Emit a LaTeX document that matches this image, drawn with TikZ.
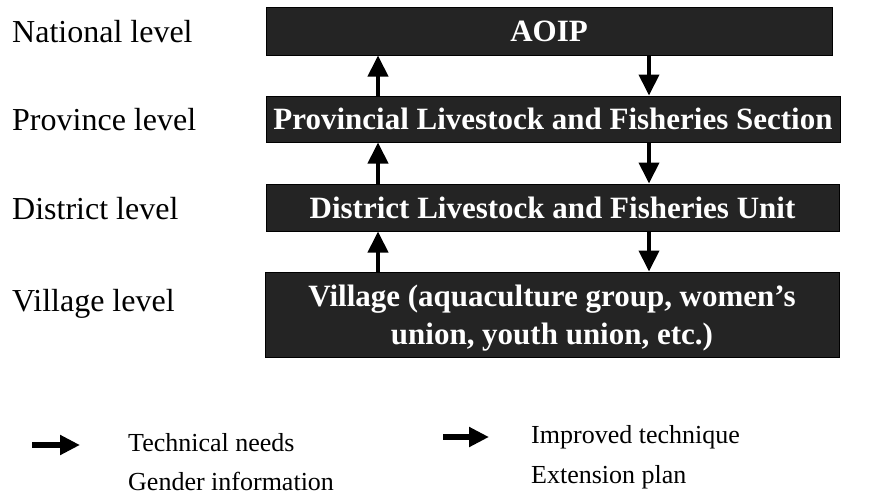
\documentclass[tikz,border=0pt]{standalone}
\usepackage{fontspec}
\setmainfont{Liberation Serif}
\usetikzlibrary{arrows.meta}

\tikzset{
  levelbox/.style={draw=black, line width=1pt, fill=black!86, text=white,
    font=\fontsize{31}{38}\selectfont\bfseries, inner sep=0pt, align=center},
  levellabel/.style={anchor=base west, inner sep=0pt,
    font=\fontsize{32}{38}\selectfont},
  flowarrow/.style={line width=4pt, -{Triangle[width=20pt,length=21pt]}},
  legendarrow/.style={line width=6pt, -{Triangle[width=19pt,length=20pt]}},
  legendtext/.style={anchor=base west, inner sep=0pt,
    font=\fontsize{26}{30}\selectfont},
}

\begin{document}
\begin{tikzpicture}[x=1pt, y=-1pt]
  \useasboundingbox (0,0) rectangle (891,499);

  % organisation levels
  \node[levelbox, minimum width=566pt, minimum height=48pt] (nat) at (549,31) {AOIP};
  \node[levelbox, minimum width=574pt, minimum height=46pt] (prov) at (553,119)
    {Provincial Livestock and Fisheries Section};
  \node[levelbox, minimum width=573pt, minimum height=47pt] (dist) at (552.5,207.5)
    {District Livestock and Fisheries Unit};
  \node[levelbox, minimum width=574pt, minimum height=85pt, text depth=0pt] (vill) at (552,314.5)
    {Village (aquaculture group, women's\\union, youth union, etc.)};

  % level names
  \node[levellabel] (lnat) at (12,42) {National level};
  \node[levellabel] (lprov) at (12,130) {Province level};
  \node[levellabel] (ldist) at (12,219) {District level};
  \node[levellabel] (lvill) at (12,311) {Village level};

  % upward and downward flows
  \coordinate (ux) at (378,0);
  \coordinate (dx) at (649,0);
  \draw[flowarrow] (prov.north -| ux) -- (nat.south -| ux);
  \draw[flowarrow] (dist.north -| ux) -- (prov.south -| ux);
  \draw[flowarrow] (vill.north -| ux) -- (dist.south -| ux);
  \draw[flowarrow] (nat.south -| dx) -- (prov.north -| dx);
  \draw[flowarrow] (prov.south -| dx) -- (dist.north -| dx);
  \draw[flowarrow] (dist.south -| dx) -- (vill.north -| dx);

  % legend
  \coordinate (la1s) at (32,445);
  \coordinate (la1e) at (80,445);
  \coordinate (la2s) at (443,437);
  \coordinate (la2e) at (489,437);
  \draw[legendarrow] (la1s) -- (la1e);
  \draw[legendarrow] (la2s) -- (la2e);
  \node[legendtext] (tneeds) at (128,451) {Technical needs};
  \node[legendtext] (gender) at (128,490) {Gender information};
  \node[legendtext] (itech) at (531,443) {Improved technique};
  \node[legendtext] (eplan) at (531,483) {Extension plan};
\end{tikzpicture}
\end{document}
